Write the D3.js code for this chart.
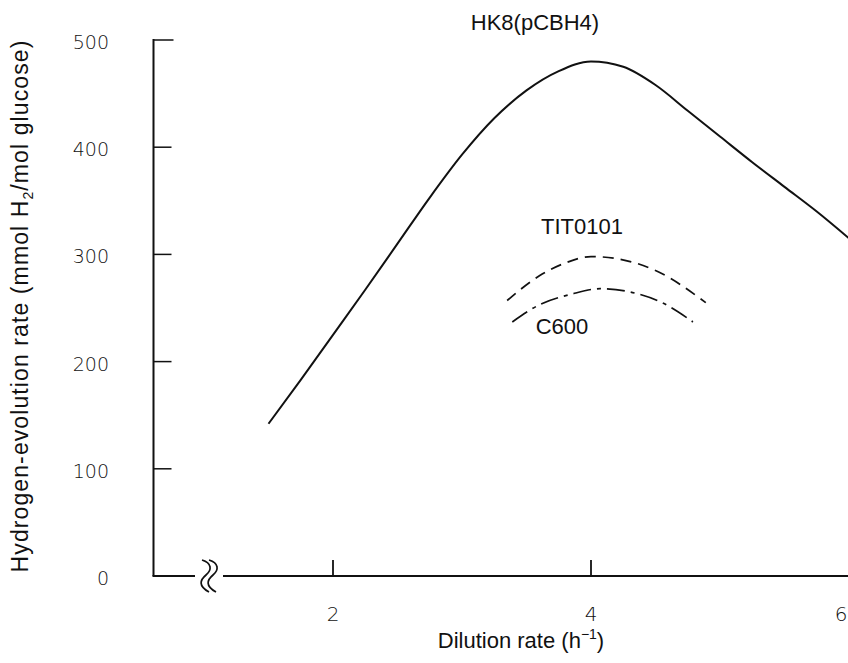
<!DOCTYPE html>
<html>
<head>
<meta charset="utf-8">
<script src="https://cdn.jsdelivr.net/npm/d3@7"></script>
<style>
  body { margin: 0; background: #fff; }
  text { font-family: "Liberation Sans", Arial, sans-serif; fill: #111; }
  .tick-label { font-family: "DejaVu Sans", sans-serif; font-weight: 300; fill: #111; }
</style>
</head>
<body>
<div id="chart"></div>
<script>
const width = 848, height = 663;

// HK8(pCBH4) curve
const hk8X = [1.5, 1.75, 2.0, 2.25, 2.5, 2.75, 3.0, 3.25, 3.5, 3.75, 4.0, 4.25, 4.5, 4.75, 5.0, 5.25, 5.5, 5.75, 6.0];
const hk8Y = [142, 183, 225, 267, 310, 353, 393, 427, 453, 471, 480, 475, 458, 434, 410, 386, 363, 340, 315];
// TIT0101 curve (dashed)
const titX = [3.35, 3.6, 3.8, 4.0, 4.2, 4.5, 4.89];
const titY = [257, 280, 292, 298, 296, 285, 255];
// C600 curve (dash-dot)
const c600X = [3.39, 3.6, 3.85, 4.07, 4.3, 4.55, 4.79];
const c600Y = [237, 253, 263, 268, 265, 255, 237];

const yTicks = [0, 100, 200, 300, 400, 500];
const xTicks = [2, 4, 6];

const svg = d3.select('#chart').append('svg')
    .attr('width', width)
    .attr('height', height);

const x = d3.scaleLinear().domain([0, 6]).range([75, 849]);
const y = d3.scaleLinear().domain([0, 500]).range([576, 40]);
const axisX = 153.5;

// y axis
svg.append('line')
    .attr('x1', axisX).attr('x2', axisX)
    .attr('y1', y(0)).attr('y2', y(500) - 1)
    .attr('stroke', '#111').attr('stroke-width', 2);

svg.selectAll('.ytick')
    .data(yTicks.filter(d => d > 0))
    .enter().append('line')
    .attr('x1', axisX).attr('x2', d => d === 500 ? axisX + 20 : axisX + 18)
    .attr('y1', d => y(d)).attr('y2', d => y(d))
    .attr('stroke', '#111').attr('stroke-width', 1.5);

svg.selectAll('.ylab')
    .data(yTicks)
    .enter().append('text')
    .attr('class', 'tick-label')
    .attr('x', 109)
    .attr('y', d => y(d) + 9)
    .attr('text-anchor', 'end')
    .attr('font-size', 19)
    .text(d => d);

// x axis with break
const breakStart = 195, breakEnd = 223;
svg.append('line')
    .attr('x1', axisX - 1).attr('x2', breakStart)
    .attr('y1', y(0)).attr('y2', y(0))
    .attr('stroke', '#111').attr('stroke-width', 2);
svg.append('line')
    .attr('x1', breakEnd).attr('x2', width)
    .attr('y1', y(0)).attr('y2', y(0))
    .attr('stroke', '#111').attr('stroke-width', 2);

const squiggle = (ox) => {
    const y0 = y(0);
    const p = d3.path();
    p.moveTo(ox + 2, y0 - 16);
    p.bezierCurveTo(ox + 12, y0 - 13, ox + 12, y0 - 6, ox + 6, y0 - 1);
    p.bezierCurveTo(ox, y0 + 4, ox - 2, y0 + 10, ox + 9, y0 + 16);
    return p.toString();
};
[200, 207].forEach(ox => {
    svg.append('path')
        .attr('d', squiggle(ox))
        .attr('fill', 'none')
        .attr('stroke', '#111')
        .attr('stroke-width', 1.7);
});

svg.selectAll('.xtick')
    .data(xTicks)
    .enter().append('line')
    .attr('x1', d => x(d)).attr('x2', d => x(d))
    .attr('y1', y(0)).attr('y2', y(0) - 16)
    .attr('stroke', '#111').attr('stroke-width', 1.8);

svg.selectAll('.xlab')
    .data(xTicks)
    .enter().append('text')
    .attr('class', 'tick-label')
    .attr('x', d => Math.min(x(d), 841))
    .attr('y', 621)
    .attr('text-anchor', 'middle')
    .attr('font-size', 20)
    .text(d => d);

// curves
const line = (xs, ys) => d3.line()
    .x(d => x(d[0]))
    .y(d => y(d[1]))
    .curve(d3.curveMonotoneX)(xs.map((v, i) => [v, ys[i]]));

svg.append('path')
    .attr('d', line(hk8X, hk8Y))
    .attr('fill', 'none')
    .attr('stroke', '#111')
    .attr('stroke-width', 2);

svg.append('path')
    .attr('d', line(titX, titY))
    .attr('fill', 'none')
    .attr('stroke', '#111')
    .attr('stroke-width', 1.7)
    .attr('stroke-dasharray', '11,7');

svg.append('path')
    .attr('d', line(c600X, c600Y))
    .attr('fill', 'none')
    .attr('stroke', '#111')
    .attr('stroke-width', 1.7)
    .attr('stroke-dasharray', '18,6,4,6');

// series labels
svg.append('text').attr('x', 535).attr('y', 30)
    .attr('text-anchor', 'middle').attr('font-size', 22).text('HK8(pCBH4)');
svg.append('text').attr('x', 582).attr('y', 234)
    .attr('text-anchor', 'middle').attr('font-size', 22).text('TIT0101');
svg.append('text').attr('x', 562).attr('y', 334)
    .attr('text-anchor', 'middle').attr('font-size', 22).text('C600');

// axis titles
const yTitle = svg.append('text')
    .attr('transform', 'translate(28,306) rotate(-90)')
    .attr('text-anchor', 'middle')
    .attr('font-size', 23)
    .attr('letter-spacing', 1.1);
yTitle.append('tspan').text('Hydrogen-evolution rate (mmol H');
yTitle.append('tspan').attr('font-size', 14).attr('dy', 5).text('2');
yTitle.append('tspan').attr('dy', -5).text('/mol glucose)');

const xTitle = svg.append('text')
    .attr('x', 521).attr('y', 648)
    .attr('text-anchor', 'middle')
    .attr('font-size', 22);
xTitle.append('tspan').text('Dilution rate (h');
xTitle.append('tspan').attr('font-size', 14).attr('dy', -9).text('−1');
xTitle.append('tspan').attr('dy', 9).text(')');
</script>
</body>
</html>
